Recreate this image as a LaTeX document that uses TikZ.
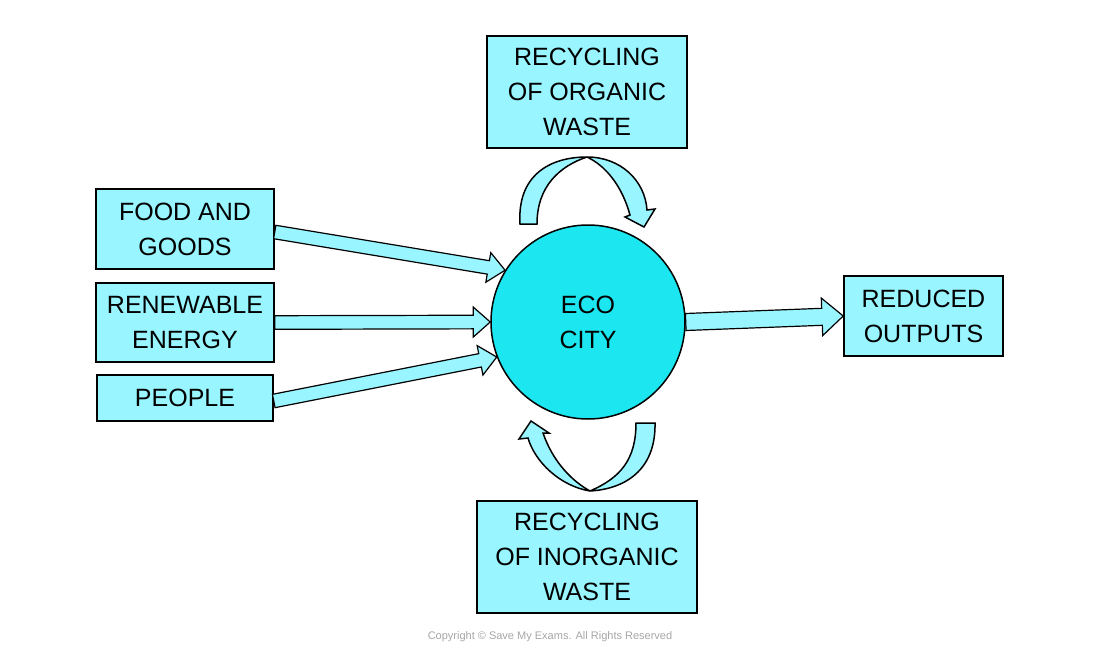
\documentclass[tikz,border=0pt]{standalone}
\usepackage{fontspec}
\setmainfont{Liberation Sans}
\usetikzlibrary{calc}
\definecolor{boxfill}{HTML}{99F5FF}
\definecolor{cityfill}{HTML}{1CE6F0}

% block arrow between two points, #1 = size factor
\newcommand{\blockarrow}[3][1]{%
  \draw[blockarr] let \p1=(#2), \p2=(#3),
      \n1={atan2(\y2-\y1,\x2-\x1)}, \n2={veclen(\x2-\x1,\y2-\y1)} in
    [shift={(\p1)}, rotate=\n1]
    (0pt,-3.4pt*#1) -- (\n2-8.5pt*#1,-3.4pt*#1) -- (\n2-8.5pt*#1,-7.5pt*#1) -- (\n2,0pt)
    -- (\n2-8.5pt*#1,7.5pt*#1) -- (\n2-8.5pt*#1,3.4pt*#1) -- (0pt,3.4pt*#1) -- cycle;}

\begin{document}
\begin{tikzpicture}[x=0.5pt, y=-0.5pt,
    box/.style={draw, fill=boxfill, line width=0.75pt, align=center, inner sep=0pt,
      font=\fontsize{12.5}{17.5}\selectfont},
    city/.style={circle, draw, fill=cityfill, line width=0.75pt, minimum size=97pt,
      inner sep=0pt, align=center, font=\fontsize{12.5}{17.5}\selectfont},
    blockarr/.style={draw, fill=boxfill, line width=0.6pt, line join=miter},
    bendarr/.style={draw, fill=boxfill, line width=0.75pt, line join=miter}]
    \useasboundingbox (0,0) rectangle (1100,654);
    % input nodes
    \node[box, minimum width=89pt, minimum height=40pt] (food) at (185,229) {FOOD AND\\GOODS};
    \node[box, minimum width=89pt, minimum height=39.5pt] (energy) at (185,322.5) {RENEWABLE\\ENERGY};
    \node[box, minimum width=88pt, minimum height=23pt] (people) at (185,398) {PEOPLE};
    % city node
    \node[city] (city) at (588,322) {ECO\\CITY};
    % output node
    \node[box, minimum width=79.5pt, minimum height=40pt] (outputs) at (923.5,316) {REDUCED\\OUTPUTS};
    % recycling nodes
    \node[box, minimum width=100pt, minimum height=56pt] (organic) at (587,92) {RECYCLING\\OF ORGANIC\\WASTE};
    \node[box, minimum width=110pt, minimum height=56pt] (inorganic) at (587,557) {RECYCLING\\OF INORGANIC\\WASTE};
    \node[text=black!35, font=\fontsize{5.5}{6}\selectfont] (copyright) at (550,637)
      {Copyright \textcopyright\ Save My Exams. All Rights Reserved};
    % inputs
    \blockarrow{$(food.east)+(0,3)$}{city.148}
    \blockarrow{energy.east}{city.180}
    \blockarrow{$(people.east)+(0,3)$}{city.201}
    % outputs
    \blockarrow[1.25]{city.east}{outputs.west}
    % recycling loops
    \draw[bendarr] (520,224) .. controls (517,175) and (550,157) .. (587,157)
      .. controls (620,157) and (645,180) .. (647,210)
      -- (655,209) -- (644,227) -- (625,217) -- (630,215)
      .. controls (622,186) and (606,166) .. (587,157)
      .. controls (560,166) and (537,186) .. (537,224) -- cycle;
    \draw[bendarr] (655,423) .. controls (656,470) and (625,489) .. (590,491)
      .. controls (560,486) and (535,462) .. (528,438)
      -- (519,439) -- (531,421) -- (549,433) -- (543,433)
      .. controls (553,462) and (572,481) .. (590,491)
      .. controls (620,478) and (636,460) .. (636,423) -- cycle;
\end{tikzpicture}
\end{document}
